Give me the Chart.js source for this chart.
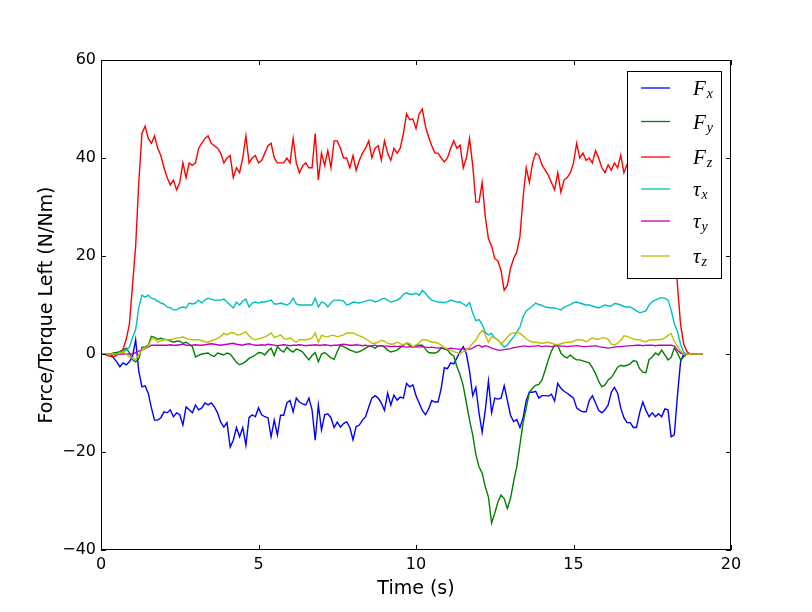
<!DOCTYPE html>
<html>
<head>
<meta charset="utf-8">
<script src="https://cdn.jsdelivr.net/npm/chart.js@4.4.1/dist/chart.umd.min.js"></script>
<style>
  html, body { margin: 0; padding: 0; background: #fff; }
  #wrap { width: 812px; height: 612px; }
</style>
</head>
<body>
<div id="wrap"><canvas id="forceChart" width="812" height="612"></canvas></div>
<script>
// one sample every 0.1 s, starting at t = 0
const sampleStep = 0.1;

const Fx = [
  0, 0, 0, 0, -0.8, -1.6, -2.6, -1.8, -2.2, -1.6,
  -0.5, 2.9, -3.5, -6.7, -6.5, -8, -11, -13.5, -13.5, -13,
  -11.8, -12, -11.4, -12.8, -12, -12.4, -14.5, -10.8, -11.4, -12,
  -10.4, -11.4, -11, -10, -10.4, -10, -10.8, -12, -13.9, -14.9,
  -14, -19, -17.6, -15, -16.9, -15, -18.6, -13, -12.4, -12.8,
  -11, -12.4, -12.8, -13, -16.9, -13.5, -16.5, -12.5, -12.5, -10,
  -9.5, -11.8, -9, -9.8, -10.2, -10.4, -9, -11.4, -17.6, -10.4,
  -15.5, -12.4, -12.2, -13, -15, -13.9, -14.9, -14.2, -13.8, -15,
  -17.5, -14.8, -14.5, -13.5, -12.8, -10.8, -9, -8.5, -9, -10,
  -11.5, -8, -10.4, -8.4, -9.4, -8.8, -9, -6, -6.7, -6.3,
  -8.5, -10, -11.5, -12.4, -11.2, -9.5, -9.8, -9.8, -7, -2.8,
  -3, -1.8, -2, -0.8, 0.5, 1.5, 0, -3.5, -8.5, -6.8,
  -12, -16, -11.4, -5.5, -12, -9, -9.2, -9, -6.5, -9.4,
  -12.5, -13.8, -13.4, -15, -13, -9.5, -7.8, -7.8, -7.6, -9,
  -8.5, -8.5, -8.6, -8.2, -9.6, -6, -7, -7.6, -8, -8.5,
  -9, -11, -11.5, -11.8, -11.8, -9.5, -8.5, -10, -11.5, -12,
  -11.4, -10.4, -7.8, -6.8, -8, -11, -13, -14, -14, -15,
  -15, -12, -9.8, -11.5, -12.8, -12, -12.8, -12.2, -12.8, -11.2,
  -11.4, -16.9, -16.5, -8.5, -1.5, 0, 0, 0, 0, 0,
  0, 0
];

const Fy = [
  0, 0, 0, 0, 0.2, 0.3, 0.5, 0.8, 1.2, 0.3,
  -1.2, -1.6, -1, 1.4, 1.4, 1.8, 3.6, 3.4, 3, 3.2,
  3, 2.9, 2.7, 2.4, 2.6, 2.6, 2.2, 2.4, 2, 1.5,
  -0.6, -0.3, 0, 0.1, 0.2, -0.3, -0.5, 0.2, 0, -0.2,
  0.2, 0, -0.8, -1.7, -2.2, -1.9, -1.5, -0.9, -0.6, -0.2,
  0.3, 0.2, -0.2, 0.6, 1.2, -0.3, 1.5, 0.8, 0.4, 1.4,
  0.8, 0.4, 1, 0.8, 0.4, -0.4, -1.2, -0.3, 0.3, -1.6,
  0, 0.3, -0.2, -0.8, -1.1, 0.5, 1.8, 1.5, 1.2, 0.8,
  0.6, 0.3, 0.5, 0.8, 1.2, 1.6, 1.5, 1.2, 1.6, 1.7,
  1.4, 0.8, 0.4, 0.6, 0.8, 1.3, 1.8, 2.2, 1.8, 1.4,
  1.8, 1.8, 1.8, 1, 0.3, 0.2, 0.2, 0.5, 1.2, 1,
  0.8, 0, -0.4, -2.6, -4.3, -6.5, -10, -13.5, -16.5, -20.5,
  -23, -24.3, -27.1, -29.2, -34.5, -32.5, -30.2, -28.8, -29.5, -31.5,
  -29.5, -26, -23, -18.5, -14, -11, -7.8, -7, -6.4, -6.2,
  -5.3, -3.3, -1.2, 0.6, 1.8, 1.8, 0.2, -0.5, -0.8, -0.2,
  -0.8, -1.2, -1.2, -1.4, -1.6, -1.8, -2.8, -4, -5.6, -6.7,
  -6.3, -5.3, -4.8, -3.8, -2.7, -2.3, -2.5, -2.3, -2, -1.4,
  -1.5, -3, -3.7, -3.8, -1.1, -0.6, 0.2, -0.2, 0.8, -0.2,
  -1.2, -0.7, 1.2, 0.2, -1.2, -0.6, 0, 0, 0, 0,
  0, 0
];

const Fz = [
  0, 0, -0.3, -0.5, -0.5, -0.3, 0.3, 1, 3, 6,
  14, 22, 35, 45, 46.5, 44, 43, 44.5, 42, 40.5,
  38, 36, 34.5, 35.5, 33.5, 35, 39, 36, 39, 38.5,
  39, 42, 43, 44, 44.5, 43, 42.5, 42, 41, 39,
  40, 40.5, 36, 38, 37, 40, 44.5, 39, 40, 40.5,
  39, 39.5, 41, 42.5, 43, 40, 39, 39, 39, 40,
  39, 44, 39, 37, 38.4, 39, 38, 38, 45, 35.5,
  41, 38.5, 41.5, 38, 43.5, 43.5, 42, 40, 40, 38,
  40.5, 37.5, 39.5, 41, 42, 43.5, 40, 42, 42.5, 39.6,
  43.5, 41, 39.5, 42, 41, 42, 45, 49, 47.8, 48,
  46, 49, 50, 46.5, 44.3, 42.5, 41, 41, 40, 39.2,
  40, 42, 43.5, 42, 42.6, 38, 40, 44, 38.5, 31,
  31, 35, 28, 23.5, 22, 19.5, 19, 17, 13, 14,
  17.5, 19.5, 20.8, 24, 32, 38, 35, 39, 41, 40.5,
  38.6, 37.5, 36.5, 35, 33.5, 37, 33, 35.5, 36, 37,
  39, 43, 40, 41, 39.5, 40, 39, 41.5, 40, 38,
  37, 38.6, 37.5, 39, 38, 40.6, 37, 38.6, 40, 39,
  38, 40, 39, 41, 39, 38, 40, 39, 41, 39,
  38, 35, 25, 14, 6, 2, 0.5, 0, 0, 0,
  0, 0
];

const tauX = [
  0, 0, 0, 0, 0, 0, 0.2, 0.5, 0.8, 1.4,
  3.3, 5, 9.5, 12, 11.6, 12, 11.4, 11.2, 10.8, 10.4,
  10.2, 9.6, 9.4, 9, 9, 9.4, 9.6, 9.4, 10.4, 10.2,
  10.4, 11, 10.4, 11, 11.4, 11.2, 11, 11, 11, 11.2,
  10.6, 10, 9.4, 10.6, 10, 10.8, 11.2, 9.6, 10.4, 10.6,
  10.4, 10.6, 10.6, 10.8, 11, 10.2, 10.2, 10.4, 10.2, 10,
  10.4, 11.4, 10.2, 10, 10, 10, 10, 10, 11.4, 9.6,
  10.6, 10.4, 9.6, 10.4, 11, 11, 11, 10.8, 10, 10.2,
  10.6, 10.5, 10.4, 10.6, 10.8, 11, 11, 10.6, 10.8, 11.2,
  11.4, 11, 10.6, 10.8, 11, 11.4, 12.2, 12.5, 12.2, 12.2,
  12.4, 12, 13, 12.4, 11.6, 11, 10.8, 10.6, 10.5, 10.5,
  10.7, 11, 10.8, 10.6, 10.6, 10.2, 9.8, 10.5, 8.4, 6.8,
  7, 6, 4.4, 3.9, 4.2, 3.3, 2.8, 2.2, 1.4, 1.8,
  2.7, 3.5, 4.5, 5.5, 7.6, 8.8, 9.3, 9.8, 10.4, 10.1,
  9.9, 9.6, 9.5, 9.4, 9.4, 9.2, 9, 9.5, 9.8, 10.1,
  10.5, 10.6, 10.4, 10.2, 10, 10, 9.8, 9.6, 9.4, 9.7,
  10, 9.8, 9.8, 10.3, 10.2, 10, 9.7, 9.6, 9.6, 9.2,
  8.8, 8.4, 8.6, 8.8, 10, 10.7, 11, 11.3, 11.5, 11.4,
  11, 9, 6.2, 4.6, 2, 0.3, 0, 0, 0, 0,
  0, 0
];

const tauY = [
  0, 0, 0, 0, 0, 0, 0, 0, 0, 0,
  0, 0.3, 0.6, 0.8, 1.1, 1.4, 1.8, 1.8, 1.8, 1.8,
  1.8, 1.8, 1.9, 1.8, 1.8, 1.9, 2, 1.8, 1.8, 1.8,
  1.9, 1.8, 1.8, 1.9, 2, 2.1, 2, 1.9, 1.8, 1.9,
  2, 2.1, 2.2, 2, 1.9, 1.8, 2, 2.1, 1.9, 1.8,
  1.8, 1.9, 1.8, 2, 1.9, 1.8, 1.7, 1.8, 1.9, 1.8,
  1.7, 1.8, 1.8, 1.9, 1.8, 1.7, 1.8, 1.8, 1.9, 1.8,
  1.8, 1.9, 1.8, 1.7, 1.8, 1.8, 1.9, 2, 1.9, 1.8,
  1.8, 1.9, 1.8, 1.7, 1.8, 1.6, 1.7, 1.8, 1.6, 1.7,
  1.6, 1.6, 1.5, 1.6, 1.5, 1.6, 1.5, 1.4, 1.5, 1.4,
  1.5, 1.4, 1.5, 1.4, 1.3, 1.4, 1.3, 1.2, 1.3, 1.2,
  1.1, 1.2, 1.1, 1, 1, 1.1, 1, 1, 1.2, 1.6,
  1.8, 1.4, 1.7, 1.5, 1.2, 1, 0.8, 0.8, 0.9, 1,
  1.1, 1.3, 1.4, 1.5, 1.6, 1.6, 1.5, 1.6, 1.6, 1.7,
  1.5, 1.6, 1.6, 1.5, 1.6, 1.7, 1.6, 1.6, 1.5, 1.6,
  1.6, 1.7, 1.6, 1.5, 1.5, 1.6, 1.6, 1.7, 1.5, 1.4,
  1.3, 1.2, 1.3, 1.4, 1.5, 1.5, 1.6, 1.6, 1.7, 1.7,
  1.8, 1.8, 1.7, 1.8, 1.8, 1.8, 1.7, 1.8, 1.8, 1.8,
  1.8, 1.8, 1.6, 0.8, 0.2, 0, 0, 0, 0, 0,
  0, 0
];

const tauZ = [
  0, 0, 0, 0, 0, 0, 0.2, 0.4, 0, -0.6,
  -0.8, -1.2, -0.2, 0.8, 1.2, 1.6, 3, 3.2, 2.4, 2.7,
  2.9, 2.9, 2.9, 3.1, 3.3, 3.3, 3.5, 3.2, 3, 2.9,
  2.9, 2.9, 2.7, 2.5, 2.4, 2.7, 2.9, 3.2, 3.6, 4.2,
  3.9, 4.3, 4.4, 3.9, 3.9, 4.2, 4.5, 3.7, 3.2, 2.9,
  3.1, 3.3, 3.5, 3.8, 4.3, 3.4, 3.6, 3.9, 3.2, 3,
  3.3, 2.8, 2.4, 2.9, 2.9, 2.9, 3, 3.3, 4.3, 2.4,
  3.8, 3.6, 3.5, 3.8, 3.8, 3.5, 3.7, 3.9, 4.3, 4.3,
  4.3, 4, 3.7, 3.5, 3.1, 2.7, 2.2, 2.2, 2.4, 2.8,
  2.6, 2.2, 2, 2.1, 2.4, 2.1, 1.8, 2.3, 2.1, 1.5,
  1.8, 2.3, 2.9, 2.9, 2.7, 2.4, 2.4, 2.2, 1.8, 1.3,
  1, 0.8, 0.5, 0.3, 0, 0.5, 0.8, 1.4, 2.2, 2.8,
  4, 4.8, 3.9, 2.4, 3.5, 3.3, 2.9, 2, 2.7, 3.4,
  4.1, 4.3, 4.4, 4.2, 3.7, 3.1, 2.7, 2.4, 2.4, 2.3,
  2.2, 2.3, 2.4, 2.2, 2, 1.9, 2.1, 2.3, 2.4, 2.4,
  2.6, 2.9, 2.9, 2.8, 2.5, 2.9, 3.3, 3, 3, 3.3,
  3.3, 3, 2, 1.8, 2.2, 2.8, 3.7, 3.6, 3.3, 3.1,
  2.9, 2.9, 2.6, 2.5, 2.8, 2.9, 2.9, 2.9, 3, 3.3,
  3.8, 4.2, 2.6, 1.6, 0.6, 0, 0, 0, 0, 0,
  0, 0
];

const seriesValues = [Fx, Fy, Fz, tauX, tauY, tauZ];
const seriesNames = ['Fx', 'Fy', 'Fz', 'τx', 'τy', 'τz'];
const legendSymbols = ['F', 'F', 'F', 'τ', 'τ', 'τ'];
const legendSubscripts = ['x', 'y', 'z', 'x', 'y', 'z'];
const seriesColors = ['#0000ff', '#008000', '#ff0000', '#00bfbf', '#bf00bf', '#bfbf00'];

const xTicks = { min: 0, max: 20, step: 5 };
const yTicks = { min: -40, max: 60, step: 20 };

const TICK_LEN = 5;

// inward ticks on all four sides, the axes box and the legend, drawn like matplotlib
const axesFrame = {
  id: 'axesFrame',
  afterDatasetsDraw(chart) {
    const { ctx, chartArea: a, scales: { x, y } } = chart;
    ctx.save();
    ctx.strokeStyle = '#000';
    ctx.lineWidth = 1;
    ctx.beginPath();
    x.ticks.forEach(t => {
      const px = Math.round(x.getPixelForValue(t.value)) + 0.5;
      ctx.moveTo(px, a.bottom);
      ctx.lineTo(px, a.bottom - TICK_LEN);
      ctx.moveTo(px, a.top);
      ctx.lineTo(px, a.top + TICK_LEN);
    });
    y.ticks.forEach(t => {
      const py = Math.round(y.getPixelForValue(t.value)) + 0.5;
      ctx.moveTo(a.left, py);
      ctx.lineTo(a.left + TICK_LEN, py);
      ctx.moveTo(a.right, py);
      ctx.lineTo(a.right - TICK_LEN, py);
    });
    ctx.stroke();
    ctx.strokeRect(Math.round(a.left) + 0.5, Math.round(a.top) + 0.5,
      Math.round(a.right - a.left) - 1, Math.round(a.bottom - a.top) - 1);

    // legend
    const box = { x: 627.5, y: 71.5, w: 94, h: 207 };
    const rowY = [88, 121.5, 157, 189, 221, 256];
    ctx.fillStyle = '#fff';
    ctx.fillRect(box.x, box.y, box.w, box.h);
    ctx.strokeRect(box.x, box.y, box.w, box.h);
    seriesNames.forEach((name, i) => {
      ctx.strokeStyle = seriesColors[i];
      ctx.lineWidth = 1.3;
      ctx.beginPath();
      ctx.moveTo(641, rowY[i]);
      ctx.lineTo(670, rowY[i]);
      ctx.stroke();
      ctx.fillStyle = '#000';
      ctx.textBaseline = 'alphabetic';
      ctx.textAlign = 'left';
      ctx.font = 'italic 21px "Liberation Serif"';
      ctx.fillText(legendSymbols[i], 693, rowY[i] + 7);
      const w = ctx.measureText(legendSymbols[i]).width;
      ctx.font = 'italic 14px "Liberation Serif"';
      ctx.fillText(legendSubscripts[i], 693 + w + 1, rowY[i] + 10);
    });
    ctx.restore();
  }
};

const datasets = seriesValues.map((vals, i) => ({
  label: seriesNames[i],
  data: vals.map((v, k) => ({ x: +(k * sampleStep).toFixed(1), y: v })),
  borderColor: seriesColors[i],
  borderWidth: 1.4,
  pointRadius: 0,
  fill: false,
  tension: 0,
  order: seriesValues.length - i
}));

const tickFont = { family: 'DejaVu Sans', size: 16 };
const titleFont = { family: 'DejaVu Sans', size: 19 };

new Chart(document.getElementById('forceChart'), {
  type: 'line',
  data: { datasets: datasets },
  options: {
    responsive: false,
    animation: false,
    events: [],
    layout: { padding: { left: 0, right: 81, top: 60, bottom: 0 } },
    plugins: { legend: { display: false }, tooltip: { enabled: false } },
    scales: {
      x: {
        type: 'linear',
        min: xTicks.min,
        max: xTicks.max,
        ticks: { stepSize: xTicks.step, color: '#000', font: tickFont, padding: 5, maxRotation: 0 },
        grid: { display: false, drawTicks: false },
        border: { display: false },
        title: { display: true, text: 'Time (s)', color: '#000', font: titleFont, padding: { top: 0, bottom: 12 } },
        afterFit: s => { s.height = 62; }
      },
      y: {
        type: 'linear',
        min: yTicks.min,
        max: yTicks.max,
        ticks: {
          stepSize: yTicks.step, color: '#000', font: tickFont, padding: 5,
          callback: v => String(v).replace('-', '\u2212')
        },
        grid: { display: false, drawTicks: false },
        border: { display: false },
        title: { display: true, text: 'Force/Torque Left (N/Nm)', color: '#000', font: titleFont, padding: { top: 36, bottom: 0 } },
        afterFit: s => { s.width = 101; }
      }
    }
  },
  plugins: [axesFrame]
});
</script>
</body>
</html>
